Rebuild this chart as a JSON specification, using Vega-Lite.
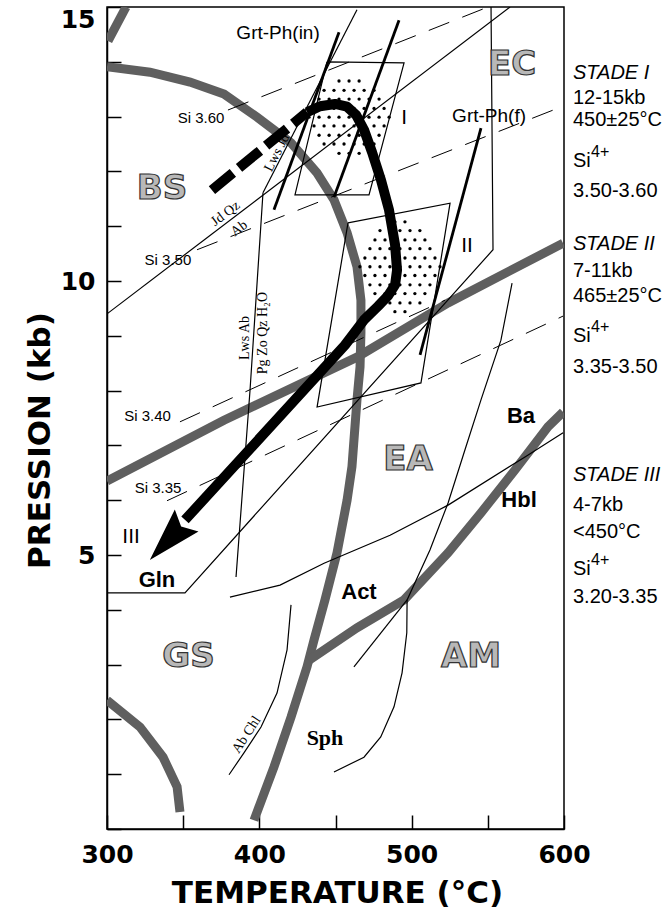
{
"$schema": "https://vega.github.io/schema/vega-lite/v6.json",
"width": 457, "height": 822,
"autosize": {"type": "none"},
"padding": {"left": 107, "top": 7, "right": 108, "bottom": 90},
"background": "white",
"config": {"view": {"stroke": "black", "strokeWidth": 1.5}},
"datasets": {
"gray": [
{"id":"g1","o":1,"t":300.7,"p":14.38},{"id":"g1","o":2,"t":312.5,"p":15.0},
{"id":"g2","o":1,"t":300,"p":13.91},{"id":"g2","o":2,"t":328.2,"p":13.81},{"id":"g2","o":3,"t":354.5,"p":13.63},{"id":"g2","o":4,"t":376.8,"p":13.41},{"id":"g2","o":5,"t":398.5,"p":12.99},{"id":"g2","o":6,"t":420.8,"p":12.52},{"id":"g2","o":7,"t":437.9,"p":11.97},{"id":"g2","o":8,"t":449.0,"p":11.48},{"id":"g2","o":9,"t":457.6,"p":10.88},{"id":"g2","o":10,"t":464.1,"p":10.26},{"id":"g2","o":11,"t":466.7,"p":9.65},{"id":"g2","o":12,"t":466.7,"p":9.05},{"id":"g2","o":13,"t":466.1,"p":8.43},{"id":"g2","o":14,"t":464.1,"p":7.83},{"id":"g2","o":15,"t":460.8,"p":6.61},{"id":"g2","o":16,"t":457.6,"p":6.0},{"id":"g2","o":17,"t":451.0,"p":5.04},{"id":"g2","o":18,"t":443.1,"p":4.18},{"id":"g2","o":19,"t":435.9,"p":3.45},{"id":"g2","o":20,"t":431.3,"p":2.96},{"id":"g2","o":21,"t":420.8,"p":2.04},{"id":"g2","o":22,"t":409.6,"p":1.13},{"id":"g2","o":23,"t":396.5,"p":0.16},
{"id":"g3","o":1,"t":300,"p":2.35},{"id":"g3","o":2,"t":321.7,"p":1.86},{"id":"g3","o":3,"t":336.8,"p":1.31},{"id":"g3","o":4,"t":346.0,"p":0.77},{"id":"g3","o":5,"t":347.9,"p":0.31},
{"id":"g4","o":1,"t":432.6,"p":3.08},{"id":"g4","o":2,"t":464.1,"p":3.67},{"id":"g4","o":3,"t":495.0,"p":4.18},{"id":"g4","o":4,"t":523.9,"p":5.04},{"id":"g4","o":5,"t":545.5,"p":5.77},{"id":"g4","o":6,"t":567.8,"p":6.55},{"id":"g4","o":7,"t":589.5,"p":7.34},{"id":"g4","o":8,"t":599.4,"p":7.61},
{"id":"g5","o":1,"t":300,"p":6.35},{"id":"g5","o":2,"t":376.8,"p":7.46},{"id":"g5","o":3,"t":464.1,"p":8.61},{"id":"g5","o":4,"t":523.9,"p":9.6},{"id":"g5","o":5,"t":599.4,"p":10.69}
],
"thin": [
{"id":"jd","o":1,"t":300,"p":9.40},{"id":"jd","o":2,"t":564.6,"p":15.0},
{"id":"lj","o":1,"t":402.4,"p":11.61},{"id":"lj","o":2,"t":464.1,"p":14.95},
{"id":"la","o":1,"t":402.4,"p":11.61},{"id":"la","o":2,"t":393.9,"p":8.01},{"id":"la","o":3,"t":384.7,"p":4.60},
{"id":"gb","o":1,"t":300,"p":4.31},{"id":"gb","o":2,"t":351.2,"p":4.31},{"id":"gb","o":3,"t":553.4,"p":10.57},{"id":"gb","o":4,"t":552.1,"p":15.0},
{"id":"ac","o":1,"t":380.7,"p":4.23},{"id":"ac","o":2,"t":413.6,"p":4.45},{"id":"ac","o":3,"t":442.5,"p":4.85},{"id":"ac","o":4,"t":485.8,"p":5.36},{"id":"ac","o":5,"t":523.9,"p":5.91},{"id":"ac","o":6,"t":574.4,"p":6.79},{"id":"ac","o":7,"t":599.4,"p":7.23},
{"id":"ba","o":1,"t":565.9,"p":9.96},{"id":"ba","o":2,"t":558.6,"p":8.92},{"id":"ba","o":3,"t":545.5,"p":7.83},{"id":"ba","o":4,"t":535.0,"p":6.92},{"id":"ba","o":5,"t":523.9,"p":5.95},{"id":"ba","o":6,"t":512.0,"p":5.09},{"id":"ba","o":7,"t":497.0,"p":4.18},{"id":"ba","o":8,"t":496.8,"p":3.58},{"id":"ba","o":9,"t":493.7,"p":2.85},{"id":"ba","o":10,"t":488.4,"p":2.23},{"id":"ba","o":11,"t":479.7,"p":1.68},{"id":"ba","o":12,"t":468.7,"p":1.31},{"id":"ba","o":13,"t":449.0,"p":1.04},
{"id":"sl","o":1,"t":462.1,"p":2.96},{"id":"sl","o":2,"t":497.0,"p":4.18},
{"id":"abc","o":1,"t":420.8,"p":4.09},{"id":"abc","o":2,"t":418.2,"p":3.27},{"id":"abc","o":3,"t":411.6,"p":2.48},{"id":"abc","o":4,"t":401.1,"p":1.86},{"id":"abc","o":5,"t":389.9,"p":1.39},{"id":"abc","o":6,"t":380.1,"p":0.99},
{"id":"b1","o":1,"t":444.4,"p":14.0},{"id":"b1","o":2,"t":495.0,"p":13.98},{"id":"b1","o":3,"t":472.0,"p":11.57},{"id":"b1","o":4,"t":423.4,"p":11.57},{"id":"b1","o":5,"t":444.4,"p":14.0},
{"id":"b2","o":1,"t":458.2,"p":11.06},{"id":"b2","o":2,"t":525.2,"p":11.42},{"id":"b2","o":3,"t":506.1,"p":8.14},{"id":"b2","o":4,"t":437.9,"p":7.70},{"id":"b2","o":5,"t":458.2,"p":11.06}
],
"dash": [
{"id":"s60","o":1,"t":379.4,"p":13.12},{"id":"s60","o":2,"t":550.1,"p":15.0},
{"id":"s50","o":1,"t":359.1,"p":10.57},{"id":"s50","o":2,"t":599.4,"p":13.19},
{"id":"s40","o":1,"t":347.9,"p":7.43},{"id":"s40","o":2,"t":521.9,"p":9.65},
{"id":"s35","o":1,"t":339.4,"p":5.99},{"id":"s35","o":2,"t":599.4,"p":9.36}
],
"bold": [
{"id":"gi1","o":1,"t":452.3,"p":14.54},{"id":"gi1","o":2,"t":409.6,"p":11.30},
{"id":"gi2","o":1,"t":491.7,"p":14.76},{"id":"gi2","o":2,"t":449.0,"p":11.53},
{"id":"gf1","o":1,"t":545.5,"p":12.79},{"id":"gf1","o":2,"t":505.5,"p":8.65}
],
"path": [
{"o":1,"t":431.3,"p":13.08},{"o":2,"t":439.8,"p":13.19},{"o":3,"t":449.7,"p":13.23},{"o":4,"t":457.6,"p":13.18},{"o":5,"t":463.5,"p":13.03},{"o":6,"t":468.7,"p":12.76},{"o":7,"t":474.0,"p":12.35},{"o":8,"t":479.9,"p":11.84},{"o":9,"t":485.1,"p":11.30},{"o":10,"t":489.1,"p":10.66},{"o":11,"t":490.4,"p":10.20},{"o":12,"t":489.1,"p":9.93},{"o":13,"t":484.5,"p":9.73},{"o":14,"t":477.9,"p":9.54},{"o":15,"t":468.7,"p":9.29},{"o":16,"t":456.2,"p":8.83},{"o":17,"t":351.2,"p":5.64}
],
"pathdash": [{"o":1,"t":368.9,"p":11.66},{"o":2,"t":431.3,"p":13.08}],
"arrow": [{"t":340.2,"p":5.27}],
"dots": [
{"t":452.3,"p":13.65},{"t":458.9,"p":13.65},{"t":465.5,"p":13.65},
{"t":442.5,"p":13.48},{"t":449.0,"p":13.48},{"t":455.6,"p":13.48},{"t":462.2,"p":13.48},{"t":468.8,"p":13.48},{"t":475.3,"p":13.48},
{"t":439.2,"p":13.32},{"t":445.8,"p":13.32},{"t":452.3,"p":13.32},{"t":458.9,"p":13.32},{"t":465.5,"p":13.32},{"t":472.0,"p":13.32},{"t":478.6,"p":13.32},
{"t":435.9,"p":13.15},{"t":442.5,"p":13.15},{"t":449.0,"p":13.15},{"t":455.6,"p":13.15},{"t":462.2,"p":13.15},{"t":468.8,"p":13.15},{"t":475.3,"p":13.15},{"t":481.9,"p":13.15},
{"t":432.6,"p":12.99},{"t":439.2,"p":12.99},{"t":445.8,"p":12.99},{"t":452.3,"p":12.99},{"t":458.9,"p":12.99},{"t":465.5,"p":12.99},{"t":472.0,"p":12.99},{"t":478.6,"p":12.99},{"t":485.2,"p":12.99},
{"t":435.9,"p":12.83},{"t":442.5,"p":12.83},{"t":449.0,"p":12.83},{"t":455.6,"p":12.83},{"t":462.2,"p":12.83},{"t":468.8,"p":12.83},{"t":475.3,"p":12.83},{"t":481.9,"p":12.83},
{"t":439.2,"p":12.66},{"t":445.8,"p":12.66},{"t":452.3,"p":12.66},{"t":458.9,"p":12.66},{"t":465.5,"p":12.66},{"t":472.0,"p":12.66},{"t":478.6,"p":12.66},
{"t":442.5,"p":12.50},{"t":449.0,"p":12.50},{"t":455.6,"p":12.50},{"t":462.2,"p":12.50},{"t":468.8,"p":12.50},{"t":475.3,"p":12.50},
{"t":452.3,"p":12.33},{"t":458.9,"p":12.33},{"t":465.5,"p":12.33},
{"t":489.0,"p":11.08},{"t":495.6,"p":11.08},
{"t":479.2,"p":10.92},{"t":485.7,"p":10.92},{"t":492.3,"p":10.92},{"t":498.9,"p":10.92},{"t":505.4,"p":10.92},
{"t":475.9,"p":10.75},{"t":482.5,"p":10.75},{"t":489.0,"p":10.75},{"t":495.6,"p":10.75},{"t":502.1,"p":10.75},{"t":508.7,"p":10.75},
{"t":472.6,"p":10.59},{"t":479.2,"p":10.59},{"t":485.7,"p":10.59},{"t":492.3,"p":10.59},{"t":498.9,"p":10.59},{"t":505.4,"p":10.59},{"t":512.0,"p":10.59},
{"t":469.3,"p":10.42},{"t":475.9,"p":10.42},{"t":482.5,"p":10.42},{"t":489.0,"p":10.42},{"t":495.6,"p":10.42},{"t":502.1,"p":10.42},{"t":508.7,"p":10.42},{"t":515.3,"p":10.42},
{"t":466.0,"p":10.26},{"t":472.6,"p":10.26},{"t":479.2,"p":10.26},{"t":485.7,"p":10.26},{"t":492.3,"p":10.26},{"t":498.9,"p":10.26},{"t":505.4,"p":10.26},{"t":512.0,"p":10.26},{"t":518.6,"p":10.26},
{"t":469.3,"p":10.10},{"t":475.9,"p":10.10},{"t":482.5,"p":10.10},{"t":489.0,"p":10.10},{"t":495.6,"p":10.10},{"t":502.1,"p":10.10},{"t":508.7,"p":10.10},{"t":515.3,"p":10.10},
{"t":472.6,"p":9.93},{"t":479.2,"p":9.93},{"t":485.7,"p":9.93},{"t":492.3,"p":9.93},{"t":498.9,"p":9.93},{"t":505.4,"p":9.93},{"t":512.0,"p":9.93},
{"t":475.9,"p":9.77},{"t":482.5,"p":9.77},{"t":489.0,"p":9.77},{"t":495.6,"p":9.77},{"t":502.1,"p":9.77},{"t":508.7,"p":9.77},
{"t":479.2,"p":9.60},{"t":485.7,"p":9.60},{"t":492.3,"p":9.60},{"t":498.9,"p":9.60},{"t":505.4,"p":9.60},
{"t":489.0,"p":9.44},{"t":495.6,"p":9.44}
],
"labels": [
{"t":336.1,"p":11.68,"s":"BS","g":"region"},{"t":565.9,"p":13.94,"s":"EC","g":"region"},{"t":497.6,"p":6.73,"s":"EA","g":"region"},{"t":353.5,"p":3.13,"s":"GS","g":"region"},{"t":539.0,"p":3.14,"s":"AM","g":"region"},
{"t":412.3,"p":14.53,"s":"Grt-Ph(in)","g":"grt"},{"t":550.8,"p":13.01,"s":"Grt-Ph(f)","g":"grt"},
{"t":495.0,"p":12.97,"s":"I","g":"rom"},{"t":536.3,"p":10.64,"s":"II","g":"rom"},{"t":315.8,"p":5.33,"s":"III","g":"rom"},
{"t":361.7,"p":12.97,"s":"Si 3.60","g":"si"},{"t":340.0,"p":10.38,"s":"Si 3.50","g":"si"},{"t":326.6,"p":7.53,"s":"Si 3.40","g":"si"},{"t":333.5,"p":6.23,"s":"Si 3.35","g":"si"},
{"t":332.8,"p":4.54,"s":"Gln","g":"bold"},{"t":465.4,"p":4.32,"s":"Act","g":"bold"},{"t":571.8,"p":7.54,"s":"Ba","g":"bold"},{"t":570.5,"p":6.0,"s":"Hbl","g":"bold"},
{"t":443.1,"p":1.66,"s":"Sph","g":"sph"},
{"t":377.8,"p":11.23,"s":"Jd Qz","g":"r37"},{"t":386.7,"p":10.96,"s":"Ab","g":"r37"},
{"t":411.6,"p":12.34,"s":"Lws Jd","g":"r63"},
{"t":390.3,"p":8.96,"s":"Lws Ab","g":"r90"},{"t":402.1,"p":9.05,"s":"Pg Zo Qz H₂O","g":"r90"},
{"t":391.6,"p":1.72,"s":"Ab Chl","g":"r57"},
{"t":605.9,"p":13.79,"s":"STADE I","g":"stade"},{"t":605.9,"p":10.68,"s":"STADE II","g":"stade"},{"t":605.9,"p":6.46,"s":"STADE III","g":"stade"},
{"t":605.9,"p":13.34,"s":"12-15kb","g":"info"},{"t":605.9,"p":12.94,"s":"450±25°C","g":"info"},{"t":605.9,"p":12.19,"s":"Si","g":"info"},{"t":605.9,"p":11.64,"s":"3.50-3.60","g":"info"},
{"t":605.9,"p":10.18,"s":"7-11kb","g":"info"},{"t":605.9,"p":9.73,"s":"465±25°C","g":"info"},{"t":605.9,"p":9.0,"s":"Si","g":"info"},{"t":605.9,"p":8.43,"s":"3.35-3.50","g":"info"},
{"t":605.9,"p":5.91,"s":"4-7kb","g":"info"},{"t":605.9,"p":5.42,"s":"<450°C","g":"info"},{"t":605.9,"p":4.74,"s":"Si","g":"info"},{"t":605.9,"p":4.23,"s":"3.20-3.35","g":"info"},
{"t":617.8,"p":12.35,"s":"4+","g":"sup"},{"t":617.8,"p":9.16,"s":"4+","g":"sup"},{"t":617.8,"p":4.91,"s":"4+","g":"sup"}
]
},
"encoding": {
"x": {"field": "t", "type": "quantitative", "scale": {"domain": [300, 600], "nice": false, "zero": false},
 "axis": {"values": [300,350,400,450,500,550,600], "labelExpr": "datum.value % 100 === 0 ? datum.label : ''", "grid": false, "labelFlush": false,
  "tickSize": -14, "tickColor": "black", "tickWidth": 1.5, "domainColor": "black", "domainWidth": 1.5,
  "labelFont": "DejaVu Sans", "labelFontWeight": "bold", "labelFontSize": 25, "labelColor": "black", "labelPadding": 27, "labelDx": -4,
  "title": "TEMPERATURE (°C)", "titleFont": "DejaVu Sans", "titleFontWeight": "bold", "titleFontSize": 31, "titleColor": "black",
  "titleX": 230, "titleY": 64, "titleAlign": "center", "titleBaseline": "middle"}},
"y": {"field": "p", "type": "quantitative", "scale": {"domain": [0, 15], "nice": false, "zero": false},
 "axis": {"values": [0,1,2,3,4,5,6,7,8,9,10,11,12,13,14,15], "labelExpr": "datum.value % 5 === 0 && datum.value > 0 ? datum.label : ''", "grid": false,
  "tickSize": -14, "tickColor": "black", "tickWidth": 1.5, "domainColor": "black", "domainWidth": 1.5,
  "labelFont": "DejaVu Sans", "labelFontWeight": "bold", "labelFontSize": 25, "labelColor": "black", "labelPadding": 26, "labelFlush": true,
  "title": "PRESSION (kb)", "titleFont": "DejaVu Sans", "titleFontWeight": "bold", "titleFontSize": 31, "titleColor": "black",
  "titleX": -67, "titleY": 433, "titleAngle": -90, "titleAlign": "center", "titleBaseline": "middle"}}
},
"layer": [
{"data": {"name": "gray"}, "mark": {"type": "line", "stroke": "#5f5f5f", "strokeWidth": 9, "clip": true}, "encoding": {"detail": {"field": "id"}, "order": {"field": "o", "type": "quantitative"}}},
{"data": {"name": "dash"}, "mark": {"type": "line", "stroke": "black", "strokeWidth": 1, "strokeDash": [22, 14], "clip": true}, "encoding": {"detail": {"field": "id"}, "order": {"field": "o", "type": "quantitative"}}},
{"data": {"name": "thin"}, "mark": {"type": "line", "stroke": "black", "strokeWidth": 1.2, "clip": true}, "encoding": {"detail": {"field": "id"}, "order": {"field": "o", "type": "quantitative"}}},
{"data": {"name": "bold"}, "mark": {"type": "line", "stroke": "black", "strokeWidth": 2.8, "clip": true}, "encoding": {"detail": {"field": "id"}, "order": {"field": "o", "type": "quantitative"}}},
{"data": {"name": "dots"}, "mark": {"type": "circle", "size": 11, "color": "black", "opacity": 1}, "encoding": {}},
{"data": {"name": "pathdash"}, "mark": {"type": "line", "stroke": "black", "strokeWidth": 10, "strokeDash": [27, 8]}, "encoding": {"order": {"field": "o", "type": "quantitative"}}},
{"data": {"name": "path"}, "mark": {"type": "line", "stroke": "black", "strokeWidth": 10, "strokeJoin": "round"}, "encoding": {"order": {"field": "o", "type": "quantitative"}}},
{"data": {"name": "arrow"}, "mark": {"type": "point", "shape": "M0,-1L0.6,1L0,0.7L-0.6,1Z", "filled": true, "color": "black", "opacity": 1, "size": 2916, "angle": 223}, "encoding": {}},
{"data": {"name": "labels"}, "transform": [{"filter": "datum.g === 'region'"}], "mark": {"type": "text", "font": "DejaVu Sans", "fontWeight": "bold", "fontSize": 34, "fill": "#b8b8b8", "stroke": "#333333", "strokeWidth": 1.2, "align": "center", "baseline": "middle"}, "encoding": {"text": {"field": "s"}}},
{"data": {"name": "labels"}, "transform": [{"filter": "datum.g === 'grt'"}], "mark": {"type": "text", "font": "Liberation Sans", "fontSize": 19, "color": "black", "align": "center", "baseline": "middle"}, "encoding": {"text": {"field": "s"}}},
{"data": {"name": "labels"}, "transform": [{"filter": "datum.g === 'rom'"}], "mark": {"type": "text", "font": "Liberation Sans", "fontSize": 21, "color": "black", "align": "center", "baseline": "middle"}, "encoding": {"text": {"field": "s"}}},
{"data": {"name": "labels"}, "transform": [{"filter": "datum.g === 'si'"}], "mark": {"type": "text", "font": "Liberation Sans", "fontSize": 15, "color": "black", "align": "center", "baseline": "middle"}, "encoding": {"text": {"field": "s"}}},
{"data": {"name": "labels"}, "transform": [{"filter": "datum.g === 'bold'"}], "mark": {"type": "text", "font": "Liberation Sans", "fontWeight": "bold", "fontSize": 22, "color": "black", "align": "center", "baseline": "middle"}, "encoding": {"text": {"field": "s"}}},
{"data": {"name": "labels"}, "transform": [{"filter": "datum.g === 'sph'"}], "mark": {"type": "text", "font": "Liberation Serif", "fontWeight": "bold", "fontSize": 22, "color": "black", "align": "center", "baseline": "middle"}, "encoding": {"text": {"field": "s"}}},
{"data": {"name": "labels"}, "transform": [{"filter": "datum.g === 'r37'"}], "mark": {"type": "text", "font": "Liberation Serif", "fontSize": 14, "color": "black", "align": "center", "baseline": "middle", "angle": 323}, "encoding": {"text": {"field": "s"}}},
{"data": {"name": "labels"}, "transform": [{"filter": "datum.g === 'r63'"}], "mark": {"type": "text", "font": "Liberation Serif", "fontSize": 14, "color": "black", "align": "center", "baseline": "middle", "angle": 297}, "encoding": {"text": {"field": "s"}}},
{"data": {"name": "labels"}, "transform": [{"filter": "datum.g === 'r90'"}], "mark": {"type": "text", "font": "Liberation Serif", "fontSize": 14, "color": "black", "align": "center", "baseline": "middle", "angle": 270}, "encoding": {"text": {"field": "s"}}},
{"data": {"name": "labels"}, "transform": [{"filter": "datum.g === 'r57'"}], "mark": {"type": "text", "font": "Liberation Serif", "fontSize": 14, "color": "black", "align": "center", "baseline": "middle", "angle": 303}, "encoding": {"text": {"field": "s"}}},
{"data": {"name": "labels"}, "transform": [{"filter": "datum.g === 'stade'"}], "mark": {"type": "text", "font": "Liberation Sans", "fontStyle": "italic", "fontSize": 20, "color": "black", "align": "left", "baseline": "middle"}, "encoding": {"text": {"field": "s"}}},
{"data": {"name": "labels"}, "transform": [{"filter": "datum.g === 'info'"}], "mark": {"type": "text", "font": "Liberation Sans", "fontSize": 20, "color": "black", "align": "left", "baseline": "middle"}, "encoding": {"text": {"field": "s"}}},
{"data": {"name": "labels"}, "transform": [{"filter": "datum.g === 'sup'"}], "mark": {"type": "text", "font": "Liberation Sans", "fontSize": 16, "color": "black", "align": "left", "baseline": "middle"}, "encoding": {"text": {"field": "s"}}}
]
}
